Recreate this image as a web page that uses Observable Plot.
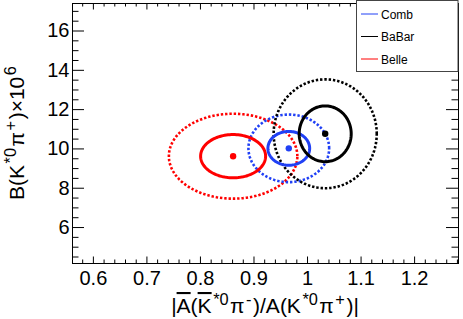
<!DOCTYPE html>
<html><head><meta charset="utf-8">
<script src="https://cdn.jsdelivr.net/npm/d3@7"></script>
<script src="https://cdn.jsdelivr.net/npm/@observablehq/plot@0.6"></script>
<style>body{margin:0;background:#fff} #chart{width:463px;height:319px}</style>
</head><body><div id="chart"></div>
<script>
// ---- data ----
const names   = ["Comb", "BaBar", "Belle"];
const colors  = ["#2040f5", "#000000", "#ff0000"];
const centerX = [0.965, 1.033, 0.861];
const centerY = [10.03, 10.77, 9.63];
const innerX  = [0.039, 0.0486, 0.0607];   // solid contour half-widths
const innerY  = [0.86, 1.42, 1.10];
const outerX  = [0.0754, 0.0963, 0.120];   // dotted contour half-widths
const outerY  = [1.72, 2.77, 2.16];
const xTicks  = [0.6, 0.7, 0.8, 0.9, 1, 1.1, 1.2];
const yTicks  = [6, 8, 10, 12, 14, 16];
const xDomain = [0.561, 1.282];
const yDomain = [4.17, 17.4];

const W = 463, H = 319;
const mL = 72, mR = 5, mT = 3, mB = 56;
const pW = W - mL - mR, pH = H - mT - mB;

const xMinor = d3.range(28, 65).map(i => +(i * 0.02).toFixed(2))
  .filter(v => v > xDomain[0] && v < xDomain[1] && !xTicks.some(t => Math.abs(t - v) < 1e-9));
const yMinor = d3.range(9, 35).map(i => i * 0.5)
  .filter(v => v > yDomain[0] && v < yDomain[1] && !yTicks.includes(v));

// contour outlines built from centre + half-widths
const angles = d3.range(0, 360, 3);
const rings = [];
names.forEach((n, i) => {
  [["inner", innerX[i], innerY[i]], ["outer", outerX[i], outerY[i]]].forEach(([lvl, sx, sy]) => {
    angles.forEach(a => {
      const t = a * Math.PI / 180;
      rings.push({name: n, level: lvl, key: n + lvl, x: centerX[i] + sx * Math.cos(t), y: centerY[i] + sy * Math.sin(t)});
    });
  });
});
const centers = names.map((n, i) => ({name: n, x: centerX[i], y: centerY[i]}));
const order = ["Belle", "Comb", "BaBar"];
const byOrder = (a, b) => order.indexOf(a.name) - order.indexOf(b.name);

const plot = Plot.plot({
  width: W, height: H,
  marginLeft: mL, marginRight: mR, marginTop: mT, marginBottom: mB,
  style: {fontFamily: "'Liberation Sans', Arial, sans-serif", fontSize: "20px", background: "#fff", color: "#000"},
  x: {domain: xDomain},
  y: {domain: yDomain},
  color: {domain: names, range: colors},
  marks: [
    Plot.line(rings.filter(d => d.level === "outer").sort(byOrder), {x: "x", y: "y", z: "key", stroke: "name", strokeWidth: 2.6, strokeDasharray: "2.4,1.9", strokeLinecap: "butt", strokeLinejoin: "miter", curve: "linear-closed"}),
    Plot.line(rings.filter(d => d.level === "inner").sort(byOrder), {x: "x", y: "y", z: "key", stroke: "name", strokeWidth: 3, curve: "linear-closed"}),
    Plot.dot(centers, {x: "x", y: "y", fill: "name", r: 3.2}),
    // inward ticks, ROOT style
    Plot.tickX(xTicks, {x: d => d, insetTop: pH - 6.5, stroke: "#000"}),
    Plot.tickX(xTicks, {x: d => d, insetBottom: pH - 6.5, stroke: "#000"}),
    Plot.tickX(xMinor, {x: d => d, insetTop: pH - 3.5, stroke: "#000"}),
    Plot.tickX(xMinor, {x: d => d, insetBottom: pH - 3.5, stroke: "#000"}),
    Plot.tickY(yTicks, {y: d => d, insetRight: pW - 12, stroke: "#000"}),
    Plot.tickY(yTicks, {y: d => d, insetLeft: pW - 12, stroke: "#000"}),
    Plot.tickY(yMinor, {y: d => d, insetRight: pW - 6.5, stroke: "#000"}),
    Plot.tickY(yMinor, {y: d => d, insetLeft: pW - 6.5, stroke: "#000"}),
    Plot.frame({stroke: "#000"}),
    Plot.axisX({ticks: xTicks, tickSize: 0, tickPadding: 7, label: null, fontSize: 20, tickFormat: d => String(d)}),
    Plot.axisY({ticks: yTicks, tickSize: 0, tickPadding: 3, label: null, fontSize: 20, tickFormat: d => String(d)})
  ]
});
document.getElementById("chart").appendChild(plot);

const svg = d3.select(plot);
const FONT = "'Liberation Sans', Arial, sans-serif";

function richText(g, segs, size) {
  const text = g.append("text").attr("font-family", FONT).attr("font-size", size).attr("fill", "#000");
  let shift = 0;
  segs.forEach(s => {
    const sup = typeof s === "object" && s.sup;
    const over = typeof s === "object" && s.over;
    const str = typeof s === "string" ? s : s.t;
    const target = sup ? -8 : 0;
    const ts = text.append("tspan").text(str).attr("dy", target - shift);
    if (sup || shift !== 0) ts.attr("dx", 1.5);
    shift = target;
    if (sup) ts.attr("font-size", size * 0.78);
    if (over) ts.style("text-decoration", "overline");
  });
  return text;
}

// x axis title
const gx = svg.append("g").attr("transform", `translate(${mL + pW / 2},313)`);
richText(gx, ["|", {t: "A", over: true}, "(", {t: "K", over: true}, {t: "*0", sup: true}, "π", {t: "-", sup: true}, ")/A(K", {t: "*0", sup: true}, "π", {t: "+", sup: true}, ")|"], 21)
  .attr("text-anchor", "middle");

// y axis title
const gy = svg.append("g").attr("transform", `translate(24,${mT + pH / 2}) rotate(-90)`);
richText(gy, ["B(K", {t: "*0", sup: true}, "π", {t: "+", sup: true}, ")×10", {t: "6", sup: true}], 21)
  .attr("text-anchor", "middle");

// legend
const lg = svg.append("g");
lg.append("rect").attr("x", 356.5).attr("y", 0.5).attr("width", 101.5).attr("height", 71)
  .attr("fill", "#fff").attr("stroke", "#444");
names.forEach((n, i) => {
  const yb = [18.5, 41, 63.5][i];
  lg.append("line").attr("x1", 361).attr("x2", 378).attr("y1", yb - 4.5).attr("y2", yb - 4.5)
    .attr("stroke", colors[i]).attr("stroke-width", 1);
  lg.append("text").attr("x", 381).attr("y", yb).attr("text-anchor", "start")
    .attr("font-family", FONT).attr("font-size", 12).attr("fill", "#000").text(n);
});
</script>
</body></html>
